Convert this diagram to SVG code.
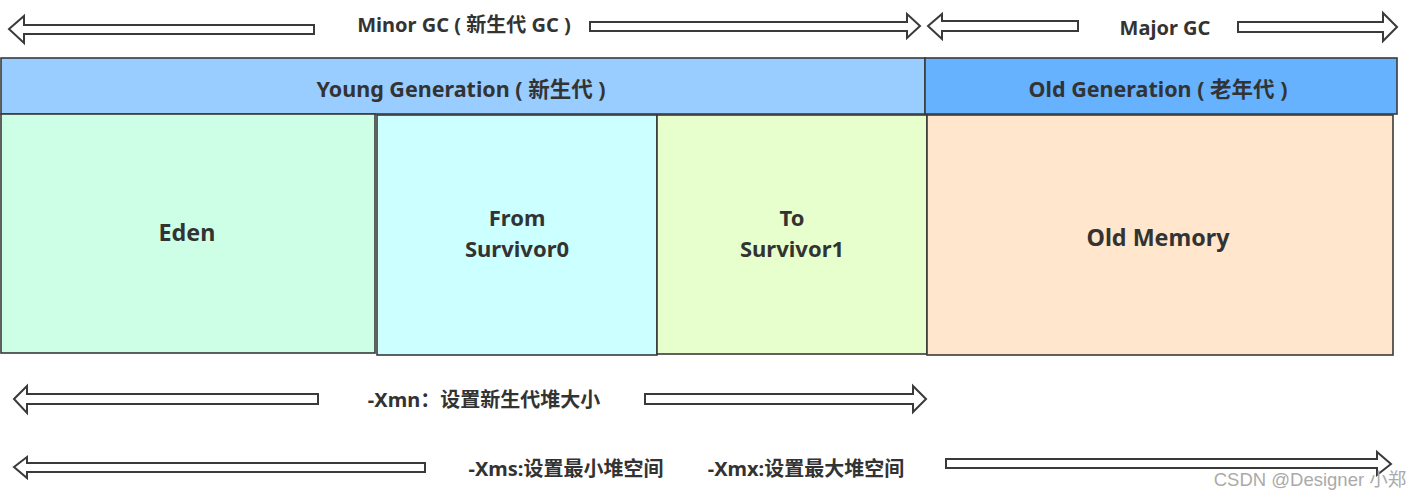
<svg xmlns="http://www.w3.org/2000/svg" width="1422" height="498" viewBox="0 0 1422 498">
<style>
.box{stroke:#3a3a3a;stroke-width:1.6}
.t{font-family:"Noto Sans","Noto Sans CJK SC",sans-serif;font-weight:bold;fill:#333;text-anchor:middle;dominant-baseline:central}
.s{font-size:20px}
.m{font-size:21.5px}
.b{font-size:23.3px}
.b2{font-size:22px}
.arr{fill:#fff;stroke:#3a3a3a;stroke-width:2;stroke-linejoin:miter}
</style>
<rect width="1422" height="498" fill="#fff"/>
<g id="young-gen"><rect class="box" x="1" y="58" width="924" height="56" fill="#99CCFF"/><text class="t m" x="461" y="88">Young Generation ( 新生代 )</text></g>
<g id="old-gen"><rect class="box" x="925" y="58" width="472" height="56" fill="#66B2FF"/><text class="t m" x="1158" y="88">Old Generation ( 老年代 )</text></g>
<g id="eden"><rect class="box" x="1" y="114" width="374" height="239" fill="#CCFFE6"/><text class="t b" x="187" y="232">Eden</text></g>
<g id="from"><rect class="box" x="377" y="115" width="280" height="240" fill="#CCFFFF"/><text class="t b2" x="517" y="217">From</text><text class="t b2" x="517" y="248">Survivor0</text></g>
<g id="to"><rect class="box" x="657" y="115" width="270" height="239" fill="#E6FFCC"/><text class="t b2" x="792" y="217">To</text><text class="t b2" x="792" y="248">Survivor1</text></g>
<g id="old-memory"><rect class="box" x="927" y="115" width="466" height="240" fill="#FFE6CC"/><text class="t b" x="1158" y="237">Old Memory</text></g>
<g id="connectors">
<path class="arr" d="M9,29 L24,16 L24,25 L314,25 L314,34 L24,34 L24,43 Z"/>
<path class="arr" d="M920,26 L907,14 L907,22 L590,22 L590,31 L907,31 L907,38 Z"/>
<path class="arr" d="M928,26 L942,14 L942,21 L1078,21 L1078,31 L942,31 L942,39 Z"/>
<path class="arr" d="M1397,27 L1383,13 L1383,22 L1238,22 L1238,32 L1383,32 L1383,41 Z"/>
<path class="arr" d="M14,399 L27,386 L27,394 L318,394 L318,404 L27,404 L27,413 Z"/>
<path class="arr" d="M926,399 L913,386 L913,394 L645,394 L645,404 L913,404 L913,412 Z"/>
<path class="arr" d="M14,467 L27,457 L27,463 L425,463 L425,472 L27,472 L27,478 Z"/>
<path class="arr" d="M1391,464 L1377,452 L1377,459 L946,459 L946,468 L1377,468 L1377,475 Z"/>
</g>
<text class="t s" x="464" y="24">Minor GC ( 新生代 GC )</text>
<text class="t s" x="1165" y="27">Major GC</text>
<text class="t s" x="484" y="399">-Xmn：设置新生代堆大小</text>
<text class="t s" x="566" y="468">-Xms:设置最小堆空间</text>
<text class="t s" x="806" y="468">-Xmx:设置最大堆空间</text>
<text x="1310" y="479" font-family="'Liberation Sans','Noto Sans CJK SC',sans-serif" font-size="18.5" fill="#aaa" text-anchor="middle" dominant-baseline="central">CSDN @Designer 小郑</text>
</svg>
